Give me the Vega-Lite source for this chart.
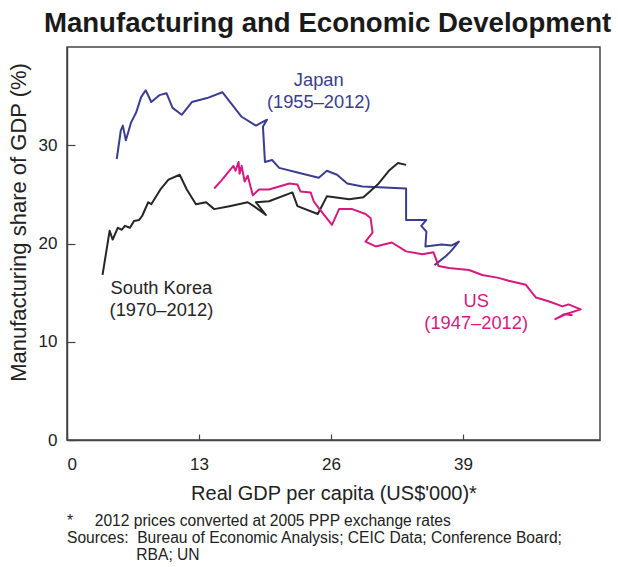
{
  "$schema": "https://vega.github.io/schema/vega-lite/v6.json",
  "background": "white",
  "padding": {"left": 6, "top": 9, "right": 12, "bottom": 2},
  "title": {
    "text": "Manufacturing and Economic Development",
    "font": "Liberation Sans",
    "fontSize": 27.6,
    "fontWeight": "bold",
    "color": "#1a1a1a",
    "anchor": "middle",
    "offset": 9,
    "dx": 24
  },
  "datasets": {
    "lines": [
      {"series": "Japan", "i": 1, "gdp": 4.9, "share": 28.6},
      {"series": "Japan", "i": 2, "gdp": 5.3, "share": 31.5},
      {"series": "Japan", "i": 3, "gdp": 5.5, "share": 32.0},
      {"series": "Japan", "i": 4, "gdp": 5.8, "share": 30.5},
      {"series": "Japan", "i": 5, "gdp": 6.3, "share": 32.3},
      {"series": "Japan", "i": 6, "gdp": 6.8, "share": 33.3},
      {"series": "Japan", "i": 7, "gdp": 7.3, "share": 34.9},
      {"series": "Japan", "i": 8, "gdp": 7.75, "share": 35.6},
      {"series": "Japan", "i": 9, "gdp": 8.3, "share": 34.4},
      {"series": "Japan", "i": 10, "gdp": 9.1, "share": 35.1},
      {"series": "Japan", "i": 11, "gdp": 9.8, "share": 35.3},
      {"series": "Japan", "i": 12, "gdp": 10.4, "share": 33.8},
      {"series": "Japan", "i": 13, "gdp": 11.3, "share": 33.1},
      {"series": "Japan", "i": 14, "gdp": 12.3, "share": 34.4},
      {"series": "Japan", "i": 15, "gdp": 13.8, "share": 34.8},
      {"series": "Japan", "i": 16, "gdp": 15.3, "share": 35.4},
      {"series": "Japan", "i": 17, "gdp": 17.2, "share": 32.9},
      {"series": "Japan", "i": 18, "gdp": 18.6, "share": 32.0},
      {"series": "Japan", "i": 19, "gdp": 19.7, "share": 32.6},
      {"series": "Japan", "i": 20, "gdp": 19.3, "share": 31.9},
      {"series": "Japan", "i": 21, "gdp": 19.5, "share": 28.3},
      {"series": "Japan", "i": 22, "gdp": 20.2, "share": 28.5},
      {"series": "Japan", "i": 23, "gdp": 20.9, "share": 27.7},
      {"series": "Japan", "i": 24, "gdp": 22.8, "share": 27.2},
      {"series": "Japan", "i": 25, "gdp": 24.8, "share": 26.7},
      {"series": "Japan", "i": 26, "gdp": 25.6, "share": 27.4},
      {"series": "Japan", "i": 27, "gdp": 26.6, "share": 27.0},
      {"series": "Japan", "i": 28, "gdp": 27.6, "share": 26.1},
      {"series": "Japan", "i": 29, "gdp": 29.1, "share": 25.8},
      {"series": "Japan", "i": 30, "gdp": 33.4, "share": 25.6},
      {"series": "Japan", "i": 31, "gdp": 33.4, "share": 22.4},
      {"series": "Japan", "i": 32, "gdp": 35.4, "share": 22.4},
      {"series": "Japan", "i": 33, "gdp": 34.9, "share": 21.8},
      {"series": "Japan", "i": 34, "gdp": 35.4, "share": 21.2},
      {"series": "Japan", "i": 35, "gdp": 35.3, "share": 19.7},
      {"series": "Japan", "i": 36, "gdp": 36.9, "share": 19.9},
      {"series": "Japan", "i": 37, "gdp": 37.9, "share": 19.8},
      {"series": "Japan", "i": 38, "gdp": 38.6, "share": 20.2},
      {"series": "Japan", "i": 39, "gdp": 37.8, "share": 19.2},
      {"series": "Japan", "i": 40, "gdp": 37.3, "share": 18.7},
      {"series": "Japan", "i": 41, "gdp": 36.2, "share": 17.8},
      {"series": "South Korea", "i": 1, "gdp": 3.5, "share": 16.8},
      {"series": "South Korea", "i": 2, "gdp": 4.2, "share": 21.3},
      {"series": "South Korea", "i": 3, "gdp": 4.5, "share": 20.4},
      {"series": "South Korea", "i": 4, "gdp": 5.0, "share": 21.6},
      {"series": "South Korea", "i": 5, "gdp": 5.4, "share": 21.4},
      {"series": "South Korea", "i": 6, "gdp": 5.7, "share": 21.8},
      {"series": "South Korea", "i": 7, "gdp": 6.2, "share": 21.6},
      {"series": "South Korea", "i": 8, "gdp": 6.6, "share": 22.3},
      {"series": "South Korea", "i": 9, "gdp": 7.1, "share": 22.4},
      {"series": "South Korea", "i": 10, "gdp": 7.4, "share": 22.8},
      {"series": "South Korea", "i": 11, "gdp": 8.0, "share": 24.2},
      {"series": "South Korea", "i": 12, "gdp": 8.3, "share": 24.0},
      {"series": "South Korea", "i": 13, "gdp": 9.2, "share": 25.5},
      {"series": "South Korea", "i": 14, "gdp": 10.0, "share": 26.5},
      {"series": "South Korea", "i": 15, "gdp": 11.1, "share": 27.0},
      {"series": "South Korea", "i": 16, "gdp": 11.8, "share": 25.5},
      {"series": "South Korea", "i": 17, "gdp": 12.7, "share": 24.0},
      {"series": "South Korea", "i": 18, "gdp": 13.7, "share": 24.2},
      {"series": "South Korea", "i": 19, "gdp": 14.5, "share": 23.5},
      {"series": "South Korea", "i": 20, "gdp": 16.0, "share": 23.8},
      {"series": "South Korea", "i": 21, "gdp": 17.8, "share": 24.2},
      {"series": "South Korea", "i": 22, "gdp": 18.4, "share": 23.8},
      {"series": "South Korea", "i": 23, "gdp": 19.6, "share": 22.9},
      {"series": "South Korea", "i": 24, "gdp": 18.6, "share": 24.2},
      {"series": "South Korea", "i": 25, "gdp": 19.9, "share": 24.3},
      {"series": "South Korea", "i": 26, "gdp": 22.2, "share": 25.2},
      {"series": "South Korea", "i": 27, "gdp": 22.7, "share": 23.8},
      {"series": "South Korea", "i": 28, "gdp": 24.7, "share": 23.0},
      {"series": "South Korea", "i": 29, "gdp": 25.6, "share": 24.8},
      {"series": "South Korea", "i": 30, "gdp": 27.8, "share": 24.5},
      {"series": "South Korea", "i": 31, "gdp": 29.2, "share": 24.7},
      {"series": "South Korea", "i": 32, "gdp": 30.6, "share": 26.0},
      {"series": "South Korea", "i": 33, "gdp": 31.7, "share": 27.4},
      {"series": "South Korea", "i": 34, "gdp": 32.6, "share": 28.2},
      {"series": "South Korea", "i": 35, "gdp": 33.4, "share": 28.0},
      {"series": "US", "i": 1, "gdp": 14.5, "share": 25.6},
      {"series": "US", "i": 2, "gdp": 15.2, "share": 26.4},
      {"series": "US", "i": 3, "gdp": 15.9, "share": 27.3},
      {"series": "US", "i": 4, "gdp": 16.4, "share": 27.9},
      {"series": "US", "i": 5, "gdp": 16.6, "share": 27.4},
      {"series": "US", "i": 6, "gdp": 16.9, "share": 28.3},
      {"series": "US", "i": 7, "gdp": 17.0, "share": 27.1},
      {"series": "US", "i": 8, "gdp": 17.2, "share": 27.9},
      {"series": "US", "i": 9, "gdp": 17.5, "share": 26.3},
      {"series": "US", "i": 10, "gdp": 17.8, "share": 26.9},
      {"series": "US", "i": 11, "gdp": 18.3, "share": 24.9},
      {"series": "US", "i": 12, "gdp": 18.9, "share": 25.5},
      {"series": "US", "i": 13, "gdp": 19.9, "share": 25.5},
      {"series": "US", "i": 14, "gdp": 21.9, "share": 26.1},
      {"series": "US", "i": 15, "gdp": 22.7, "share": 26.0},
      {"series": "US", "i": 16, "gdp": 23.0, "share": 25.3},
      {"series": "US", "i": 17, "gdp": 24.0, "share": 25.2},
      {"series": "US", "i": 18, "gdp": 24.3, "share": 24.3},
      {"series": "US", "i": 19, "gdp": 24.8, "share": 23.6},
      {"series": "US", "i": 20, "gdp": 26.1, "share": 21.9},
      {"series": "US", "i": 21, "gdp": 26.8, "share": 23.5},
      {"series": "US", "i": 22, "gdp": 28.1, "share": 23.5},
      {"series": "US", "i": 23, "gdp": 29.4, "share": 23.0},
      {"series": "US", "i": 24, "gdp": 29.9, "share": 22.6},
      {"series": "US", "i": 25, "gdp": 30.1, "share": 21.1},
      {"series": "US", "i": 26, "gdp": 29.4, "share": 20.2},
      {"series": "US", "i": 27, "gdp": 30.4, "share": 19.7},
      {"series": "US", "i": 28, "gdp": 32.0, "share": 20.1},
      {"series": "US", "i": 29, "gdp": 33.4, "share": 19.2},
      {"series": "US", "i": 30, "gdp": 35.0, "share": 18.9},
      {"series": "US", "i": 31, "gdp": 36.1, "share": 19.1},
      {"series": "US", "i": 32, "gdp": 36.6, "share": 17.7},
      {"series": "US", "i": 33, "gdp": 37.6, "share": 17.5},
      {"series": "US", "i": 34, "gdp": 39.6, "share": 17.3},
      {"series": "US", "i": 35, "gdp": 40.9, "share": 16.8},
      {"series": "US", "i": 36, "gdp": 42.5, "share": 16.5},
      {"series": "US", "i": 37, "gdp": 43.5, "share": 16.2},
      {"series": "US", "i": 38, "gdp": 45.2, "share": 15.8},
      {"series": "US", "i": 39, "gdp": 45.8, "share": 15.0},
      {"series": "US", "i": 40, "gdp": 46.2, "share": 14.5},
      {"series": "US", "i": 41, "gdp": 47.5, "share": 14.1},
      {"series": "US", "i": 42, "gdp": 48.8, "share": 13.6},
      {"series": "US", "i": 43, "gdp": 49.4, "share": 13.8},
      {"series": "US", "i": 44, "gdp": 50.6, "share": 13.3},
      {"series": "US", "i": 45, "gdp": 49.1, "share": 12.8},
      {"series": "US", "i": 46, "gdp": 48.1, "share": 12.3},
      {"series": "US", "i": 47, "gdp": 49.0, "share": 12.8},
      {"series": "US", "i": 48, "gdp": 49.8, "share": 12.7}
    ],
    "labels": [
      {"series": "Japan", "label": "Japan\n(1955–2012)", "lx": 24.8, "ly": 36.5},
      {"series": "South Korea", "label": "South Korea\n(1970–2012)", "lx": 9.3, "ly": 15.4},
      {"series": "US", "label": "US\n(1947–2012)", "lx": 40.3, "ly": 14.0}
    ]
  },
  "vconcat": [
    {
      "width": 533,
      "height": 393,
      "title": {
        "text": [
          "*\u00a0\u00a0\u00a0\u00a0\u00a02012 prices converted at 2005 PPP exchange rates",
          "Sources:\u00a0\u00a0Bureau of Economic Analysis; CEIC Data; Conference Board;",
          "\u200b\u00a0\u00a0\u00a0\u00a0\u00a0\u00a0\u00a0\u00a0\u00a0\u00a0\u00a0\u00a0\u00a0\u00a0\u00a0\u00a0RBA; UN"
        ],
        "orient": "bottom",
        "anchor": "start",
        "frame": "group",
        "align": "left",
        "font": "Liberation Sans",
        "fontSize": 15.6,
        "fontWeight": "normal",
        "color": "#222222",
        "lineHeight": 17,
        "offset": 11
      },
      "layer": [
        {
          "data": {"name": "lines"},
          "mark": {"type": "line", "strokeWidth": 2, "strokeJoin": "round"},
          "encoding": {
            "x": {
              "field": "gdp",
              "type": "quantitative",
              "scale": {"domain": [0, 52.5], "nice": false, "zero": false},
              "axis": {
                "values": [0, 13, 26, 39],
                "tickSize": -6,
                "labelPadding": 22,
                "title": "Real GDP per capita (US$'000)*",
                "titleFontSize": 20,
                "titlePadding": 11
              }
            },
            "y": {
              "field": "share",
              "type": "quantitative",
              "scale": {"domain": [0, 40], "nice": false},
              "axis": {
                "values": [0, 10, 20, 30],
                "tickSize": -8,
                "labelPadding": 18,
                "title": "Manufacturing share of GDP (%)",
                "titleFontSize": 22,
                "titlePadding": 8,
                "titleY": 175
              }
            },
            "color": {
              "field": "series",
              "type": "nominal",
              "scale": {"domain": ["Japan", "South Korea", "US"], "range": ["#3b3e8e", "#262626", "#d6197f"]},
              "legend": null
            },
            "order": {"field": "i", "type": "quantitative"}
          }
        },
        {
          "data": {"name": "labels"},
          "mark": {"type": "text", "font": "Liberation Sans", "fontSize": 18.3, "lineBreak": "\n", "lineHeight": 22, "align": "center", "baseline": "middle"},
          "encoding": {
            "x": {"field": "lx", "type": "quantitative"},
            "y": {"field": "ly", "type": "quantitative"},
            "text": {"field": "label"},
            "color": {
              "field": "series",
              "type": "nominal",
              "scale": {"domain": ["Japan", "South Korea", "US"], "range": ["#3b3e8e", "#262626", "#d6197f"]},
              "legend": null
            }
          }
        }
      ]
    }
  ],
  "config": {
    "view": {"stroke": "#444444", "strokeWidth": 1.5},
    "axis": {
      "grid": false,
      "domainColor": "#444444",
      "domainWidth": 1.5,
      "tickColor": "#444444",
      "tickWidth": 1.2,
      "labelFont": "Liberation Sans",
      "labelFontSize": 17,
      "labelColor": "#222222",
      "titleFont": "Liberation Sans",
      "titleFontWeight": "normal",
      "titleColor": "#222222"
    }
  }
}
